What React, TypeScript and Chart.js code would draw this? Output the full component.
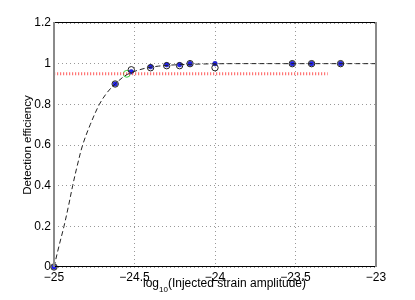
import React, { useEffect, useRef } from "react";
import { Chart, registerables } from "chart.js";

Chart.register(...registerables);

// ---- data ----
const xTickValues = [-25, -24.5, -24, -23.5, -23];
const xTickLabels = ["−25", "−24.5", "−24", "−23.5", "−23"];
const yTickValues = [0, 0.2, 0.4, 0.6, 0.8, 1, 1.2];
const yTickLabels = ["0", "0.2", "0.4", "0.6", "0.8", "1", "1.2"];

// measured efficiency (blue dots)
const dotX = [-25, -24.62, -24.52, -24.4, -24.3, -24.22, -24.155, -24.0, -23.52, -23.4, -23.22];
const dotY = [0, 0.9, 0.96, 0.985, 0.995, 0.995, 1.0, 1.0, 1.0, 1.0, 1.0];

// second estimate (open black circles)
const circX = [-25, -24.62, -24.52, -24.4, -24.3, -24.22, -24.155, -24.0, -23.52, -23.4, -23.22];
const circY = [0, 0.9, 0.97, 0.98, 0.99, 0.99, 1.0, 0.98, 1.0, 1.0, 1.0];

// fitted curve (dashed)
const curveX = [-25, -24.97, -24.938, -24.91, -24.884, -24.855, -24.822, -24.775, -24.718, -24.668, -24.62, -24.56, -24.5, -24.43, -24.35, -24.25, -24.1, -23.9, -23.5, -23.0];
const curveY = [0, 0.1, 0.2, 0.3, 0.4, 0.5, 0.6, 0.7, 0.8, 0.86, 0.9, 0.94, 0.962, 0.978, 0.988, 0.994, 0.998, 1.0, 1.0, 1.0];

// 95% threshold line (red dotted)
const threshX = [-25, -23.3];
const threshY = [0.95, 0.95];

// 95% crossing (green circle)
const crossX = [-24.548];
const crossY = [0.95];

const yTitle = "Detection efficiency";
const xTitleMain = "log";
const xTitleSub = "10";
const xTitleRest = "(Injected strain amplitude)";

const FONT = '"Liberation Sans", Arial, Helvetica, sans-serif';

const pts = (xs: number[], ys: number[]) => xs.map((x, i) => ({ x, y: ys[i] }));

const framePlugin = {
  id: "frame",
  afterDatasetsDraw(chart: any) {
    const { ctx, chartArea } = chart;
    const { left, right, top, bottom } = chartArea;
    ctx.save();
    ctx.strokeStyle = "#000";
    ctx.lineWidth = 1;
    ctx.beginPath();
    ctx.moveTo(left, top - 0.5);
    ctx.lineTo(right, top - 0.5);
    ctx.moveTo(left, bottom - 0.5);
    ctx.lineTo(right, bottom - 0.5);
    ctx.stroke();
    ctx.strokeStyle = "#8a8a8a";
    ctx.lineWidth = 2;
    ctx.beginPath();
    ctx.moveTo(left, top - 1);
    ctx.lineTo(left, bottom);
    ctx.moveTo(right, top - 1);
    ctx.lineTo(right, bottom);
    ctx.stroke();
    ctx.restore();
  },
  afterDraw(chart: any) {
    const { ctx, chartArea } = chart;
    ctx.save();
    ctx.fillStyle = "#000";
    ctx.font = `11.5px ${FONT}`;
    ctx.textAlign = "center";
    ctx.textBaseline = "middle";
    ctx.translate(28, (chartArea.top + chartArea.bottom) / 2);
    ctx.rotate(-Math.PI / 2);
    ctx.fillText(yTitle, 0, 0);
    ctx.restore();

    ctx.save();
    ctx.fillStyle = "#000";
    ctx.textAlign = "left";
    ctx.textBaseline = "alphabetic";
    ctx.font = `12px ${FONT}`;
    const wMain = ctx.measureText(xTitleMain).width;
    ctx.font = `8px ${FONT}`;
    const wSub = ctx.measureText(xTitleSub).width;
    ctx.font = `12px ${FONT}`;
    const wRest = ctx.measureText(xTitleRest).width;
    const total = wMain + wSub + wRest;
    let x = 224.5 - total / 2;
    const base = 287;
    ctx.fillText(xTitleMain, x, base);
    x += wMain;
    ctx.font = `8px ${FONT}`;
    ctx.fillText(xTitleSub, x, base + 5);
    x += wSub;
    ctx.font = `12px ${FONT}`;
    ctx.fillText(xTitleRest, x, base);
    ctx.restore();
  },
};

export default function App() {
  const ref = useRef<HTMLCanvasElement | null>(null);

  useEffect(() => {
    if (!ref.current) return;
    const chart = new Chart(ref.current, {
      type: "scatter",
      data: {
        datasets: [
          {
            label: "fit",
            data: pts(curveX, curveY),
            showLine: true,
            borderColor: "#222",
            borderWidth: 1,
            borderDash: [5, 3],
            pointRadius: 0,
            tension: 0.35,
            fill: false,
          } as any,
          {
            label: "threshold",
            data: pts(threshX, threshY),
            showLine: true,
            borderColor: "rgba(255,60,60,0.7)",
            borderWidth: 3,
            borderDash: [1.2, 1.8],
            pointRadius: 0,
            fill: false,
          } as any,
          {
            label: "circles",
            data: pts(circX, circY),
            showLine: false,
            pointStyle: "circle",
            pointRadius: 3.2,
            pointBackgroundColor: "rgba(0,0,0,0)",
            pointBorderColor: "#222",
            pointBorderWidth: 1,
            clip: false,
          } as any,
          {
            label: "dots",
            data: pts(dotX, dotY),
            showLine: false,
            pointStyle: "circle",
            pointRadius: 2.3,
            pointBackgroundColor: "#2020ff",
            pointBorderColor: "#1a1aa0",
            pointBorderWidth: 0.6,
            clip: false,
          } as any,
          {
            label: "crossing",
            data: pts(crossX, crossY),
            showLine: false,
            pointStyle: "circle",
            pointRadius: 3.4,
            pointBackgroundColor: "rgba(0,0,0,0)",
            pointBorderColor: "#33cc33",
            pointBorderWidth: 1,
          } as any,
        ],
      },
      options: {
        responsive: false,
        devicePixelRatio: 1,
        animation: false,
        events: [],
        layout: { padding: { top: 23, right: 39, left: 0, bottom: 0 } },
        plugins: {
          legend: { display: false },
          tooltip: { enabled: false },
          title: { display: false },
        },
        scales: {
          x: {
            type: "linear",
            min: -25,
            max: -23,
            afterBuildTicks: (scale: any) => {
              scale.ticks = xTickValues.map((v) => ({ value: v }));
            },
            afterFit: (scale: any) => {
              scale.height = 33;
            },
            border: { display: false, dash: [1, 3] },
            grid: {
              color: "rgba(0,0,0,0.4)",
              drawTicks: false,
              lineWidth: 1,
            },
            ticks: {
              autoSkip: false,
              maxRotation: 0,
              padding: 3,
              color: "#000",
              font: { family: FONT, size: 12 },
              callback: (_v: any, i: number) => xTickLabels[i],
            },
          },
          y: {
            type: "linear",
            min: 0,
            max: 1.2,
            afterBuildTicks: (scale: any) => {
              scale.ticks = yTickValues.map((v) => ({ value: v }));
            },
            afterFit: (scale: any) => {
              scale.width = 54;
            },
            border: { display: false, dash: [1, 3] },
            grid: {
              color: "rgba(0,0,0,0.4)",
              drawTicks: false,
              lineWidth: 1,
            },
            ticks: {
              autoSkip: false,
              padding: 3,
              color: "#000",
              font: { family: FONT, size: 12 },
              callback: (_v: any, i: number) => yTickLabels[i],
            },
          },
        },
      } as any,
      plugins: [framePlugin],
    });
    return () => chart.destroy();
  }, []);

  return (
    <div style={{ position: "absolute", left: 0, top: 0, width: 415, height: 300, background: "#fff" }}>
      <canvas ref={ref} width={415} height={300} />
    </div>
  );
}
